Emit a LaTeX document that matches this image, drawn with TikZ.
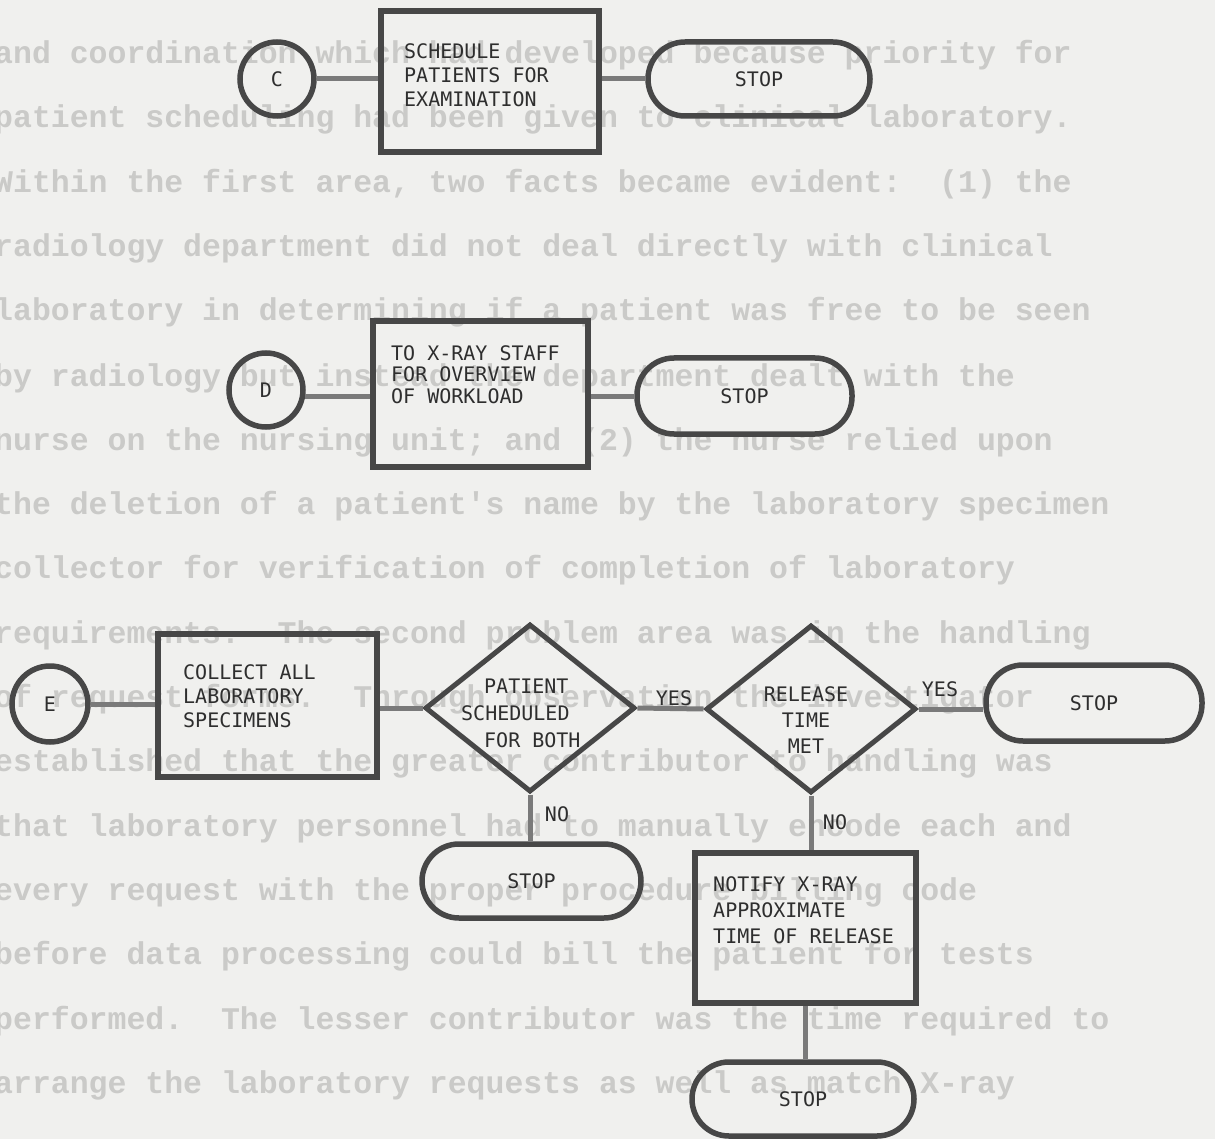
\documentclass[tikz,border=0pt]{standalone}
\usepackage{fontspec}
\newfontfamily\chartfont{DejaVu Sans Mono}
\newfontfamily\typedfont{Liberation Mono}
\usetikzlibrary{shapes.geometric}
\definecolor{paper}{HTML}{F0F0EE}
\definecolor{ink}{HTML}{474747}
\definecolor{wire}{HTML}{7A7A7A}
\definecolor{ghost}{HTML}{CACAC8}
\definecolor{txt}{HTML}{2E2E2E}
\frenchspacing
\begin{document}
\begin{tikzpicture}[x=1pt,y=-1pt,
  shapeline/.style={draw=ink, line width=5.5pt},
  procbox/.style={shapeline, rectangle, inner sep=0pt},
  termbox/.style={shapeline, rectangle, rounded corners=37pt, minimum height=74pt, inner sep=0pt,
     font=\chartfont\fontsize{20}{24}\selectfont, text=txt},
  conn/.style={shapeline, circle, minimum size=74pt, inner sep=0pt,
     font=\chartfont\fontsize{20}{24}\selectfont, text=txt},
  decision/.style={draw=ink, line width=5pt, diamond, minimum width=210pt, minimum height=168pt, inner sep=0pt},
  wireline/.style={draw=wire, line width=5pt},
  lbl/.style={font=\chartfont\fontsize{20}{24}\selectfont, text=txt, inner sep=0pt},
  ghosttxt/.style={font=\typedfont\bfseries\fontsize{31.5}{32}\selectfont, text=ghost, anchor=base west, inner sep=0pt}
]
\fill[paper] (0,0) rectangle (1215,1139);
\useasboundingbox (0,0) rectangle (1215,1139);

% faint typed text behind the chart
\node[ghosttxt] (g1) at (-6,64) {and coordination which had developed because priority for};
\node[ghosttxt] (g2) at (-6,128) {patient scheduling had been given to clinical laboratory.};
\node[ghosttxt] (g3) at (-6,193) {Within the first area, two facts became evident:\ \ (1) the};
\node[ghosttxt] (g4) at (-6,257) {radiology department did not deal directly with clinical};
\node[ghosttxt] (g5) at (-6,321) {laboratory in determining if a patient was free to be seen};
\node[ghosttxt] (g6) at (-6,386) {by radiology but instead the department dealt with the};
\node[ghosttxt] (g7) at (-6,450) {nurse on the nursing unit; and (2) the nurse relied upon};
\node[ghosttxt] (g8) at (-6,514) {the deletion of a patient's name by the laboratory specimen};
\node[ghosttxt] (g9) at (-6,578) {collector for verification of completion of laboratory};
\node[ghosttxt] (g10) at (-6,643) {requirements.\ \ The second problem area was in the handling};
\node[ghosttxt] (g11) at (-6,707) {of request forms.\ \ Through observation the investigator};
\node[ghosttxt] (g12) at (-6,771) {established that the greater contributor to handling was};
\node[ghosttxt] (g13) at (-6,836) {that laboratory personnel had to manually encode each and};
\node[ghosttxt] (g14) at (-6,900) {every request with the proper procedure billing code};
\node[ghosttxt] (g15) at (-6,964) {before data processing could bill the patient for tests};
\node[ghosttxt] (g16) at (-6,1029) {performed.\ \ The lesser contributor was the time required to};
\node[ghosttxt] (g17) at (-6,1093) {arrange the laboratory requests as well as match X-ray};

% row 1
\node[conn] (C) at (277,79) {C};
\node[procbox, minimum width=218pt, minimum height=141pt] (r1) at (490,81.5) {};
\node[lbl, anchor=north west, align=left] (t1) at (404,43) {SCHEDULE\\PATIENTS FOR\\EXAMINATION};
\node[termbox, minimum width=222pt] (s1) at (759,79) {STOP};

% row 2
\node[conn] (D) at (266,390) {D};
\node[procbox, minimum width=215pt, minimum height=146pt] (r2) at (480.5,394) {};
\node[lbl, anchor=north west, align=left, font=\chartfont\fontsize{20}{21.5}\selectfont] (t2) at (391,345) {TO X-RAY STAFF\\FOR OVERVIEW\\OF WORKLOAD};
\node[termbox, minimum width=215pt, minimum height=76pt] (s2) at (744.5,396) {STOP};

% row 3
\node[conn, minimum size=76pt] (E) at (50,704) {E};
\node[procbox, minimum width=219pt, minimum height=143pt] (r3) at (267.5,705.5) {};
\node[lbl, anchor=north west, align=left] (t3) at (183,664) {COLLECT ALL\\LABORATORY\\SPECIMENS};
\node[decision] (d1) at (530,708) {};
\node[lbl, anchor=north west, align=left, font=\chartfont\fontsize{20}{27}\selectfont] (t4) at (461,679) {\hspace*{23pt}PATIENT\\SCHEDULED\\\hspace*{23pt}FOR BOTH};
\node[decision] (d2) at (811,709) {};
\node[lbl, anchor=north, align=center, font=\chartfont\fontsize{20}{26}\selectfont] (t5) at (806,686) {RELEASE\\TIME\\MET};
\node[termbox, minimum width=216pt, minimum height=76pt] (s3) at (1094,703) {STOP};

% row 4
\node[termbox, minimum width=219pt] (s4) at (531.5,881) {STOP};
\node[procbox, minimum width=221pt, minimum height=150pt] (r4) at (805.5,928) {};
\node[lbl, anchor=north west, align=left, font=\chartfont\fontsize{20}{26}\selectfont] (t6) at (713,876) {NOTIFY X-RAY\\APPROXIMATE\\TIME OF RELEASE};
\node[termbox, minimum width=222pt] (s5) at (803,1099) {STOP};

% connectors
\draw[wireline] (C.east) -- (C.east -| r1.west);
\draw[wireline] (s1.west -| r1.east) -- (s1.west);
\draw[wireline] (D.-10) -- (D.-10 -| r2.west);
\draw[wireline] (s2.west -| r2.east) -- (s2.west);
\draw[wireline] (E.east) -- (E.east -| r3.west);
\draw[wireline] (d1.west -| r3.east) -- (d1.west);
\draw[wireline] (d1.east) -- (d2.west);
\draw[wireline] (d2.east) -- (d2.east -| s3.west);
\draw[wireline] (d1.south) -- (d1.south |- s4.north);
\draw[wireline] (d2.south) -- (d2.south |- r4.north);
\draw[wireline] (r4.south) -- (r4.south |- s5.north);

% branch labels
\node[lbl] (y1) at (674,698) {YES};
\node[lbl] (y2) at (940,689) {YES};
\node[lbl] (n1) at (557,814) {NO};
\node[lbl] (n2) at (835,822) {NO};
\end{tikzpicture}
\end{document}
